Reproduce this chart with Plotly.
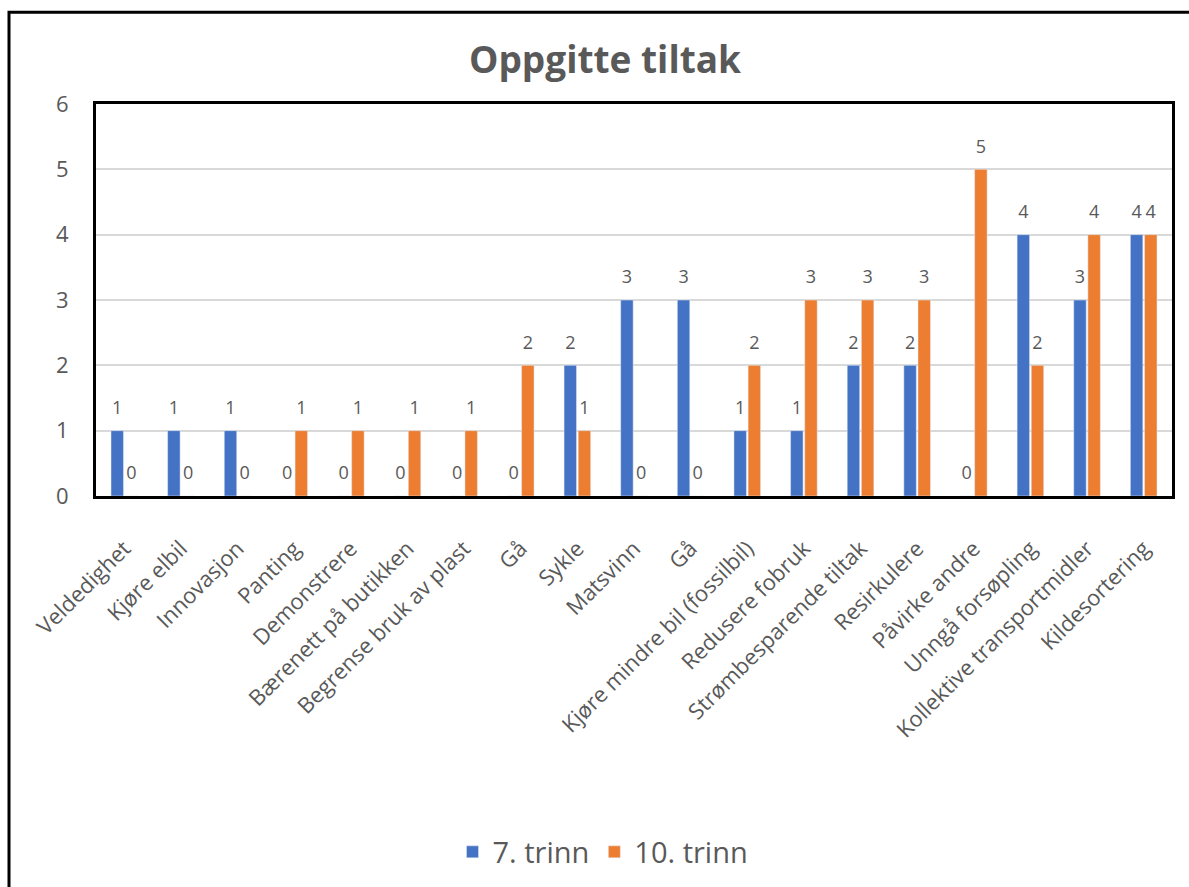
import plotly.graph_objects as go

categories = ["Veldedighet", "Kjøre elbil", "Innovasjon", "Panting", "Demonstrere",
              "Bærenett på butikken", "Begrense bruk av plast", "Gå", "Sykle", "Matsvinn",
              "Gå", "Kjøre mindre bil (fossilbil)", "Redusere fobruk", "Strømbesparende tiltak",
              "Resirkulere", "Påvirke andre", "Unngå forsøpling", "Kollektive transportmidler",
              "Kildesortering"]
trinn7 = [1, 1, 1, 0, 0, 0, 0, 0, 2, 3, 3, 1, 1, 2, 2, 0, 4, 3, 4]
trinn10 = [0, 0, 0, 1, 1, 1, 1, 2, 1, 0, 0, 2, 3, 3, 3, 5, 2, 4, 4]
y_ticks = [0, 1, 2, 3, 4, 5, 6]

BLUE = "#4472C4"
ORANGE = "#ED7D31"
GREY = "#595959"
FONT = "'Open Sans', Lato, sans-serif"

W, H = 1189, 887
L, R, T, B = 96, 1172, 104, 497

xs = list(range(len(categories)))
bargap = 0.5
slot = (1 - bargap) / 2

fig = go.Figure()
fig.add_trace(go.Bar(x=xs, y=trinn7, name="7. trinn", marker_color=BLUE, hoverinfo="skip"))
fig.add_trace(go.Bar(x=xs, y=trinn10, name="10. trinn", marker_color=ORANGE, hoverinfo="skip"))

for vals, sign in ((trinn7, -1), (trinn10, 1)):
    fig.add_trace(go.Scatter(
        x=[i + sign * slot / 2 for i in xs], y=vals, text=[str(v) for v in vals],
        mode="markers+text", textposition="top center",
        marker=dict(size=18, opacity=0), cliponaxis=False,
        textfont=dict(size=18, color=GREY, family=FONT),
        showlegend=False, hoverinfo="skip"))

fig.update_layout(
    width=W, height=H,
    margin=dict(l=L, r=W - R, t=T, b=H - B),
    paper_bgcolor="white", plot_bgcolor="white",
    barmode="group", bargap=bargap, bargroupgap=0.12,
    font=dict(family=FONT, color=GREY),
    title=dict(text="<b>Oppgitte tiltak</b>", x=605 / W, xanchor="center",
               y=1 - 60 / H, yanchor="middle",
               font=dict(size=37, color=GREY, family=FONT)),
    legend=dict(orientation="h", x=(603 - L) / (R - L), xanchor="center",
                y=(B - 852) / (B - T), yanchor="middle",
                font=dict(size=29, color=GREY, family=FONT),
                itemwidth=30, traceorder="normal"),
    showlegend=True,
)
fig.update_xaxes(
    range=[-0.5, len(categories) - 0.5],
    tickmode="array", tickvals=xs, ticktext=categories,
    tickangle=-45, tickfont=dict(size=22, color=GREY, family=FONT),
    ticks="", ticklabelstandoff=28,
    showline=True, linecolor="black", linewidth=3, mirror=True,
    showgrid=False, zeroline=False,
)
fig.update_yaxes(
    range=[0, 6], tickmode="array", tickvals=y_ticks,
    tickfont=dict(size=22, color=GREY, family=FONT),
    ticks="", ticklabelstandoff=20,
    showline=True, linecolor="black", linewidth=3, mirror=True,
    showgrid=True, gridcolor="#D9D9D9", gridwidth=1.5, zeroline=False,
)
# outer chart border
fig.add_shape(type="rect", xref="paper", yref="paper",
              x0=(9 - L) / (R - L), x1=(W + 5 - L) / (R - L),
              y0=(B - (H + 5)) / (B - T), y1=(B - 12) / (B - T),
              line=dict(color="black", width=3), fillcolor="rgba(0,0,0,0)", layer="above")

fig.write_html("out.html")
